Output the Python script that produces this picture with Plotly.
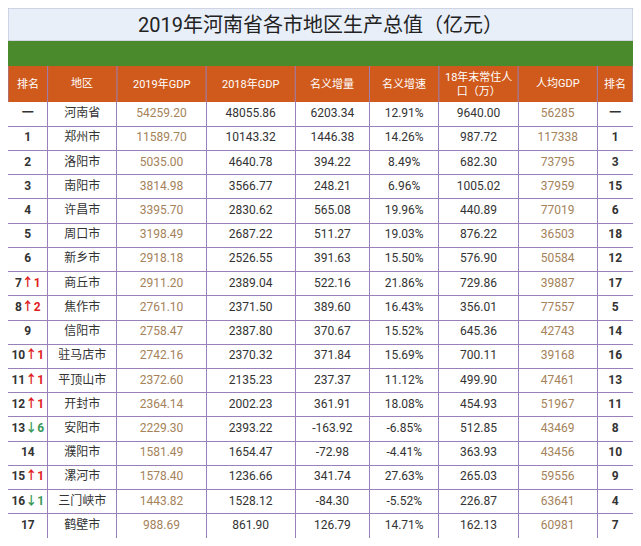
import plotly.graph_objects as go

W, H = 625, 530

title = "2019年河南省各市地区生产总值（亿元）"
headers = ["排名", "地区", "2019年GDP", "2018年GDP", "名义增量", "名义增速", "18年末常住人<br>口（万）", "人均GDP", "排名"]
col_widths = [40, 70, 90, 90, 75, 70, 80, 80, 36]

UP = '<span style="color:#e02020">↑%s</span>'
DN = '<span style="color:#3a9a5a">↓%s</span>'
rank_2019 = ["一", "1", "2", "3", "4", "5", "6",
             "7" + UP % 1, "8" + UP % 2, "9",
             "10" + UP % 1, "11" + UP % 1, "12" + UP % 1, "13" + DN % 6, "14",
             "15" + UP % 1, "16" + DN % 1, "17"]
cities = ["河南省", "郑州市", "洛阳市", "南阳市", "许昌市", "周口市", "新乡市", "商丘市", "焦作市",
          "信阳市", "驻马店市", "平顶山市", "开封市", "安阳市", "濮阳市", "漯河市", "三门峡市", "鹤壁市"]
gdp_2019 = [54259.20, 11589.70, 5035.00, 3814.98, 3395.70, 3198.49, 2918.18, 2911.20, 2761.10,
            2758.47, 2742.16, 2372.60, 2364.14, 2229.30, 1581.49, 1578.40, 1443.82, 988.69]
gdp_2018 = [48055.86, 10143.32, 4640.78, 3566.77, 2830.62, 2687.22, 2526.55, 2389.04, 2371.50,
            2387.80, 2370.32, 2135.23, 2002.23, 2393.22, 1654.47, 1236.66, 1528.12, 861.90]
increase = [6203.34, 1446.38, 394.22, 248.21, 565.08, 511.27, 391.63, 522.16, 389.60,
            370.67, 371.84, 237.37, 361.91, -163.92, -72.98, 341.74, -84.30, 126.79]
growth = [12.91, 14.26, 8.49, 6.96, 19.96, 19.03, 15.50, 21.86, 16.43,
          15.52, 15.69, 11.12, 18.08, -6.85, -4.41, 27.63, -5.52, 14.71]
population = [9640.00, 987.72, 682.30, 1005.02, 440.89, 876.22, 576.90, 729.86, 356.01,
              645.36, 700.11, 499.90, 454.93, 512.85, 363.93, 265.03, 226.87, 162.13]
per_capita = [56285, 117338, 73795, 37959, 77019, 36503, 50584, 39887, 77557,
              42743, 39168, 47461, 51967, 43469, 43456, 59556, 63641, 60981]
rank_per_capita = ["一", "1", "3", "15", "6", "18", "12", "17", "5",
                   "14", "16", "13", "11", "8", "10", "9", "4", "7"]

dark = "#333333"
brown = "#a5825a"
purple = "#9a80b8"
FONT = "Roboto, Noto Sans CJK SC"

columns = [
    (["<b>%s</b>" % r for r in rank_2019], dark),
    (cities, dark),
    (["%.2f" % v for v in gdp_2019], brown),
    (["%.2f" % v for v in gdp_2018], dark),
    (["%.2f" % v for v in increase], dark),
    (["%.2f%%" % v for v in growth], dark),
    (["%.2f" % v for v in population], dark),
    ([str(v) for v in per_capita], brown),
    (["<b>%s</b>" % r for r in rank_per_capita], dark),
]

edges = [0]
for w in col_widths:
    edges.append(edges[-1] + w)
centers = [(a + b) / 2 for a, b in zip(edges[:-1], edges[1:])]
rows = list(range(len(cities)))

title_h, green_h, head_h = 33, 25, 36
top = (title_h + green_h + head_h) / H

fig = go.Figure()
for (texts, color), cx in zip(columns, centers):
    fig.add_trace(go.Scatter(
        x=[cx] * len(texts), y=rows, mode="text", text=texts,
        textfont=dict(size=12, color=color, family=FONT), hoverinfo="skip", showlegend=False,
    ))

# title band, green band, header band
fig.add_shape(type="rect", xref="paper", yref="paper", x0=0, x1=1,
              y0=1 - title_h / H, y1=1, fillcolor="#e8eff9", line=dict(color="#b8b8d0", width=1))
fig.add_shape(type="rect", xref="paper", yref="paper", x0=0, x1=1,
              y0=1 - (title_h + green_h) / H, y1=1 - title_h / H, fillcolor="#4b8a2c", line=dict(width=0))
fig.add_shape(type="rect", xref="paper", yref="paper", x0=0, x1=1,
              y0=1 - top, y1=1 - (title_h + green_h) / H, fillcolor="#cf5a1c", line=dict(width=0))
for e in edges:
    fig.add_shape(type="line", xref="x", yref="paper", x0=e, x1=e,
                  y0=1 - top, y1=1 - (title_h + green_h) / H, line=dict(color=purple, width=1))
for h, cx in zip(headers, centers):
    fig.add_annotation(text=h, xref="x", yref="paper", x=cx, y=1 - (title_h + green_h + head_h / 2) / H,
                       yanchor="middle", showarrow=False,
                       font=dict(size=11, color="white", family=FONT))
fig.add_annotation(text=title, xref="paper", yref="paper", x=0.5, y=1 - title_h / 2 / H,
                   yanchor="middle", showarrow=False,
                   font=dict(size=20, color="#222222", family=FONT))

fig.update_xaxes(range=[0, edges[-1]], domain=[0, 1], tickvals=edges, showticklabels=False,
                 showgrid=True, gridcolor=purple, gridwidth=1, zeroline=False, fixedrange=True)
fig.update_yaxes(range=[len(rows) - 0.5, -0.5], domain=[0, 1 - top],
                 tickvals=[r - 0.5 for r in rows] + [len(rows) - 0.5], showticklabels=False,
                 showgrid=True, gridcolor=purple, gridwidth=1, zeroline=False, fixedrange=True)
fig.update_layout(width=W, height=H, margin=dict(l=0, r=0, t=0, b=0),
                  paper_bgcolor="white", plot_bgcolor="white")
fig.write_html("out.html")
